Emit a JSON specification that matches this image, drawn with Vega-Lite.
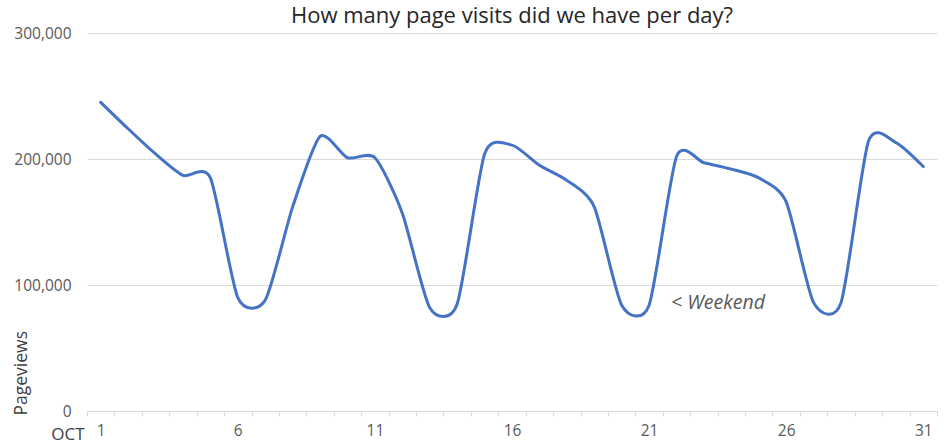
{
  "$schema": "https://vega.github.io/schema/vega-lite/v6.json",
  "width": 850,
  "height": 378,
  "autosize": "none",
  "padding": {"left": 87, "top": 33, "right": 9, "bottom": 34},
  "background": "white",
  "title": {
    "text": "How many page visits did we have per day?",
    "font": "Open Sans",
    "fontSize": 22,
    "fontWeight": "normal",
    "color": "#262626",
    "anchor": "middle",
    "offset": 2,
    "dy": 4
  },
  "config": {
    "view": {"stroke": null},
    "font": "Open Sans"
  },
  "datasets": {
    "visits": [
      {"day": 1, "pageviews": 245000},
      {"day": 2, "pageviews": 224000},
      {"day": 3, "pageviews": 204000},
      {"day": 4, "pageviews": 187000},
      {"day": 5, "pageviews": 185000},
      {"day": 6, "pageviews": 90000},
      {"day": 7, "pageviews": 88000},
      {"day": 8, "pageviews": 162000},
      {"day": 9, "pageviews": 218000},
      {"day": 10, "pageviews": 201000},
      {"day": 11, "pageviews": 201000},
      {"day": 12, "pageviews": 157000},
      {"day": 13, "pageviews": 82000},
      {"day": 14, "pageviews": 85000},
      {"day": 15, "pageviews": 204000},
      {"day": 16, "pageviews": 211000},
      {"day": 17, "pageviews": 195000},
      {"day": 18, "pageviews": 183000},
      {"day": 19, "pageviews": 162000},
      {"day": 20, "pageviews": 84000},
      {"day": 21, "pageviews": 84000},
      {"day": 22, "pageviews": 202000},
      {"day": 23, "pageviews": 197000},
      {"day": 24, "pageviews": 192000},
      {"day": 25, "pageviews": 185000},
      {"day": 26, "pageviews": 166000},
      {"day": 27, "pageviews": 86000},
      {"day": 28, "pageviews": 86000},
      {"day": 29, "pageviews": 214000},
      {"day": 30, "pageviews": 213000},
      {"day": 31, "pageviews": 194000}
    ],
    "notes": [
      {"day": 21.8, "pageviews": 86000, "label": "< Weekend"}
    ]
  },
  "encoding": {
    "x": {
      "field": "day",
      "type": "quantitative",
      "scale": {"domain": [0.5, 31.5], "nice": false, "zero": false},
      "axis": {
        "title": "OCT",
        "titleX": -3,
        "titleY": 23,
        "titleAlign": "right",
        "titleBaseline": "middle",
        "titleFont": "Open Sans",
        "titleFontSize": 17,
        "titleFontWeight": "normal",
        "titleColor": "#404040",
        "values": [0.5, 1.5, 2.5, 3.5, 4.5, 5.5, 6.5, 7.5, 8.5, 9.5, 10.5, 11.5, 12.5, 13.5, 14.5, 15.5, 16.5, 17.5, 18.5, 19.5, 20.5, 21.5, 22.5, 23.5, 24.5, 25.5, 26.5, 27.5, 28.5, 29.5, 30.5, 31.5],
        "labelExpr": "(datum.value - 0.5) % 5 == 0 ? format(datum.value + 0.5, 'd') : ''",
        "labelOffset": 13.7,
        "labelOverlap": "greedy",
        "labelSeparation": 0,
        "labelFlush": false,
        "labelFont": "Open Sans",
        "labelFontSize": 15.5,
        "labelColor": "#595959",
        "labelPadding": 7,
        "grid": false,
        "domainColor": "#d9d9d9",
        "domainWidth": 1,
        "tickColor": "#d9d9d9",
        "tickSize": 5
      }
    },
    "y": {
      "field": "pageviews",
      "type": "quantitative",
      "scale": {"domain": [0, 300000], "nice": false},
      "axis": {
        "title": "Pageviews",
        "titleX": -66,
        "titleY": 382,
        "titleAngle": -90,
        "titleAlign": "left",
        "titleBaseline": "middle",
        "titleFont": "Open Sans",
        "titleFontSize": 17.5,
        "titleFontWeight": "normal",
        "titleColor": "#404040",
        "values": [0, 100000, 200000, 300000],
        "format": ",.0f",
        "labelFont": "Open Sans",
        "labelFontSize": 15.5,
        "labelColor": "#595959",
        "labelPadding": 16,
        "domain": false,
        "ticks": false,
        "grid": true,
        "gridColor": "#d9d9d9",
        "gridWidth": 1
      }
    }
  },
  "layer": [
    {
      "data": {"name": "visits"},
      "mark": {
        "type": "line",
        "interpolate": "cardinal",
        "tension": 0.3,
        "color": "#4472C4",
        "strokeWidth": 3,
        "strokeCap": "round"
      }
    },
    {
      "data": {"name": "notes"},
      "mark": {
        "type": "text",
        "align": "left",
        "baseline": "middle",
        "font": "Open Sans",
        "fontSize": 19.5,
        "fontStyle": "italic",
        "color": "#595959"
      },
      "encoding": {
        "text": {"field": "label"}
      }
    }
  ]
}
